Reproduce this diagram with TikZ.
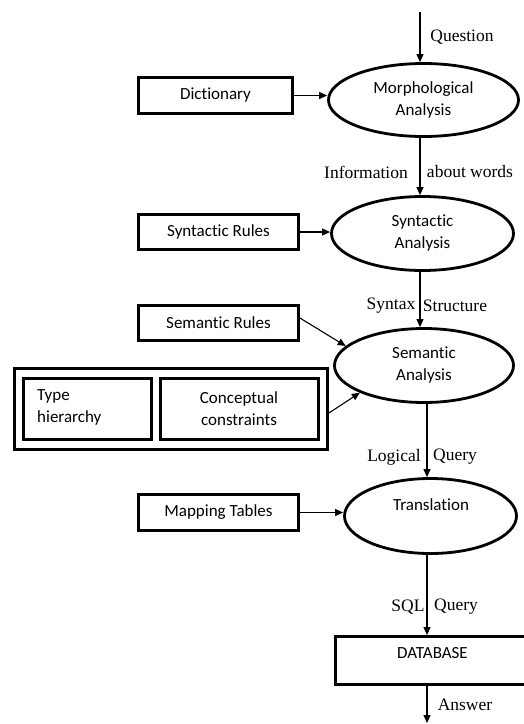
\documentclass[tikz,border=0pt]{standalone}
\usepackage{fontspec}
\setmainfont{Liberation Serif}
\newfontfamily\boxfont[Ligatures=NoCommon]{Carlito}
\usetikzlibrary{arrows.meta,shapes.geometric}
\begin{document}
\begin{tikzpicture}[x=1pt,y=-1pt,
 thickbox/.style={draw,line width=2.8pt,rectangle,inner sep=0pt},
 proc/.style={draw,line width=2.8pt,ellipse,inner sep=0pt,font=\boxfont\fontsize{17}{22}\selectfont,align=center},
 btext/.style={font=\boxfont\fontsize{17}{22}\selectfont,inner sep=0pt},
 ltext/.style={font=\fontsize{17.5}{20}\selectfont,inner sep=0pt},
 arr/.style={line width=1.1pt,-{Triangle[length=8pt,width=7pt]}}]
\useasboundingbox (0,0) rectangle (524,724);

% ellipses
\node[proc,minimum width=190pt,minimum height=73pt] (morph) at (423.5,100) {Morphological\\Analysis};
\node[proc,minimum width=182pt,minimum height=74pt] (syn) at (422.5,233.5) {Syntactic\\Analysis};
\node[proc,minimum width=179pt,minimum height=74pt] (sem) at (424,365.5) {Semantic\\Analysis};
\node[proc,minimum width=172pt,minimum height=75pt] (trans) at (430.5,516) {};
\node[btext] (transt) at (431,505) {Translation};

% boxes
\node[thickbox,minimum width=154pt,minimum height=36pt] (dict) at (215.5,95.5) {};
\node[btext] at (dict) {Dictionary};
\node[thickbox,minimum width=160pt,minimum height=35pt] (synr) at (218.5,232) {};
\node[btext] at (synr) {Syntactic Rules};
\node[thickbox,minimum width=160pt,minimum height=35pt] (semr) at (218.5,323) {};
\node[btext] at (semr) {Semantic Rules};
\node[thickbox,minimum width=160pt,minimum height=36pt] (mapr) at (218.5,512.5) {};
\node[btext] at (mapr) {Mapping Tables};

\node[thickbox,minimum width=313pt,minimum height=81pt] (outer) at (171,409) {};
\node[thickbox,minimum width=128pt,minimum height=61pt] (typeb) at (87.5,409) {};
\node[btext,anchor=west,align=left] at (37,407.5) {Type\\hierarchy};
\node[thickbox,minimum width=158pt,minimum height=61pt] (concb) at (239.5,409) {};
\node[btext,align=center] at (239,408.5) {Conceptual\\constraints};

\node[thickbox,minimum width=195pt,minimum height=48pt] (db) at (432.7,660.5) {};
\node[btext] at (432.5,653) {DATABASE};

% coordinates for vertical flow
\coordinate (xa) at (420,0);
\coordinate (xb) at (427,0);
\coordinate (qstart) at (420,12);
\coordinate (aend) at (427,723);

% arrows
\draw[arr] (qstart) -- (morph.north -| xa);
\draw[arr] (morph.south -| xa) -- (syn.north -| xa);
\draw[arr] (syn.south -| xa) -- (sem.north -| xa);
\draw[arr] (sem.south -| xb) -- (trans.north -| xb);
\draw[arr] (trans.south -| xb) -- (db.north -| xb);
\draw[arr] (db.south -| xb) -- (aend);

\draw[arr] (dict.east) -- (dict.east -| morph.west);
\draw[arr] (synr.east) -- (synr.east -| syn.west);
\draw[arr] ([yshift=5pt]semr.east) -- (sem.166);
\draw[arr] ([yshift=-4pt]outer.east) -- (sem.203);
\draw[arr] (mapr.east) -- (mapr.east -| trans.west);

% labels
\node[ltext] at (462,37) {Question};
\node[ltext] at (366,172) {Information};
\node[ltext] at (470,172) {about words};
\node[ltext] at (391,306) {Syntax};
\node[ltext] at (455,306) {Structure};
\node[ltext] at (394,457) {Logical};
\node[ltext] at (455,457) {Query};
\node[ltext] at (408,607) {SQL};
\node[ltext] at (456,607) {Query};
\node[ltext] at (465,705) {Answer};
\end{tikzpicture}
\end{document}
